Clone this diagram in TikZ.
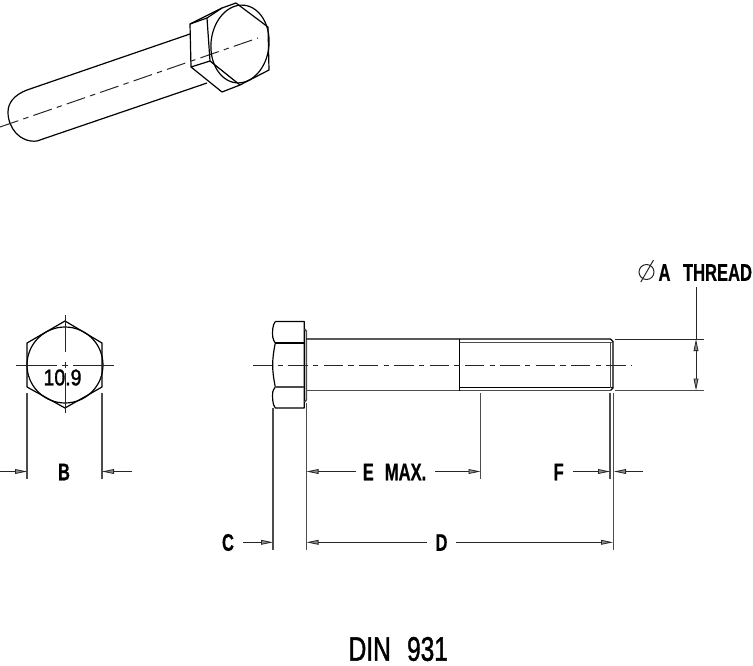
\documentclass[tikz,border=0pt]{standalone}
\usepackage{fontspec}
\setmainfont{Liberation Sans}
\newfontfamily\thickfont[FakeBold=1.6]{Liberation Sans}
\newfontfamily\labfont[FakeBold=.5]{Liberation Sans Bold}
\usetikzlibrary{arrows.meta}
\newcommand{\lbl}[1]{\scalebox{.69}[1]{\fontsize{18}{18}\labfont #1}}
\tikzset{
  obj/.style={line width=.9pt,black,line join=round},
  dim/.style={line width=.75pt,black!85},
  ext/.style={line width=1pt,black!70},
  cl/.style={line width=.75pt,black!85,dash pattern=on 14.5pt off 4pt on 4pt off 4pt},
  tip/.style={-{Triangle[length=9pt,width=3.6pt,fill=black!45,line width=.6pt]}},
  txt/.style={inner sep=0pt,outer sep=0pt,anchor=center,black}
}
\begin{document}
\begin{tikzpicture}[x=.75pt,y=-.75pt]
\useasboundingbox (0,0) rectangle (753,665);
% isometric view
\draw[obj] (190,34) -- (27,90) .. controls (14,95) and (8,103) .. (8,112) .. controls (8,128) and (20,143) .. (37,141) -- (207,83);
\draw[cl] (0,127) -- (258,38);
\draw[obj] (190,24) -- (222,8) -- (236,3) -- (268,27) -- (269,70) -- (240,85) -- (222,92) -- (191,67) -- cycle;
\draw[obj] (190,24) -- (207,18) -- (210,61) -- (191,67);
\draw[obj] (210,61) -- (240,85);
\draw[obj] (207,18) -- (222,8);
\draw[obj,rotate around={-6:(240,44)}] (240,44) ellipse (29 and 39);
% end view
\draw[obj] (65,321) -- (102,343) -- (102,387) -- (65,408) -- (27,387) -- (27,343) -- cycle;
\draw[obj] (65,365) circle (38);
\draw[dim] (16,365) -- (57,365) (62,365) -- (68,365) (73,365) -- (114,365);
\draw[dim] (65,315) -- (65,352) (65,362) -- (65,368) (65,373) -- (65,413);
\node[txt] (grade) at (62.5,377.5) {\scalebox{.86}[1]{\fontsize{17}{17}\thickfont 10.9}};
\draw[ext] (27,393) -- (27,479) (102,393) -- (102,479);
\node[txt] (B) at (64,472) {\lbl{B}};
\draw[dim,tip] (0,471.5) -- (27,471.5);
\draw[dim,tip] (132,471.5) -- (102,471.5);
% side view: head
\draw[obj] (275.3,321.5) -- (304.3,321.5) -- (304.3,408) -- (275.3,408)
  .. controls (272,404) and (272.5,396) .. (272.7,392) .. controls (273,390) and (274.5,388.5) .. (275.3,387)
  .. controls (273.5,378) and (272.7,372) .. (272.7,365) .. controls (272.7,358) and (273.5,352) .. (275.3,343)
  .. controls (274.5,341.5) and (273,340) .. (272.7,337) .. controls (272.5,333) and (272,325.5) .. (275.3,321.5);
\draw[obj] (275.3,343) -- (304.3,343);
\draw[ext] (275.3,387) -- (304.3,387);
\draw[ext,line width=1.2pt] (304.6,329) -- (306.3,331) -- (306.3,400) -- (304.6,402);
% shank and thread
\draw[obj] (306.3,339) -- (610.5,339) -- (613,341.5) -- (613,388) -- (610.5,390.5);
\draw[ext] (306.3,390.5) -- (610.5,390.5);
\draw[obj] (459.5,339) -- (459.5,390.5);
\draw[ext] (459.5,342.6) -- (613,342.6);
\draw[obj] (459.5,387.4) -- (613,387.4);
\draw[ext] (610.6,342) -- (610.6,388);
\draw[cl] (253,365) -- (632,365);
\draw[dim] (614.5,339.3) -- (704,339.3);
\draw[ext] (614.5,390.7) -- (704,390.7);
% extension lines
\draw[ext] (273,408) -- (273,550);
\draw[ext] (306.3,403) -- (306.3,550);
\draw[ext] (480.7,393) -- (480.7,478.5);
\draw[ext] (610,393) -- (610,478.5);
\draw[ext] (613.3,393) -- (613.3,549.5);
% E MAX
\node[txt] (E) at (394.5,472) {\lbl{E\hspace{12pt}MAX.}};
\draw[dim,tip] (356,471.5) -- (306.5,471.5);
\draw[dim,tip] (435,471.5) -- (480.5,471.5);
% F
\node[txt] (F) at (558.7,472) {\lbl{F}};
\draw[dim,tip] (573,471.5) -- (610,471.5);
\draw[dim,tip] (643,471.5) -- (614,471.5);
% D
\node[txt] (D) at (441.5,542.5) {\lbl{D}};
\draw[dim,tip] (427,542.3) -- (306.5,542.3);
\draw[dim,tip] (456,542.3) -- (613,542.3);
% C
\node[txt] (C) at (228,542.5) {\lbl{C}};
\draw[dim,tip] (243,542.3) -- (273,542.3);
% thread dim
\draw[dim] (696,287) -- (696,339);
\draw[dim,tip] (696,365) -- (696,339);
\draw[dim,tip] (696,365) -- (696,390.5);
\draw[dim] (646.5,272) circle (7.5);
\draw[dim] (640.8,282) -- (653.5,260);
\node[txt] (A) at (664.5,272.5) {\lbl{A}};
\node[txt] (T) at (717.5,272.5) {\lbl{THREAD}};
% title
\node[txt] (title) at (398.3,649) {\scalebox{.72}[1]{\fontsize{25.5}{25.5}\thickfont DIN\hspace{17pt}931}};
\end{tikzpicture}
\end{document}
